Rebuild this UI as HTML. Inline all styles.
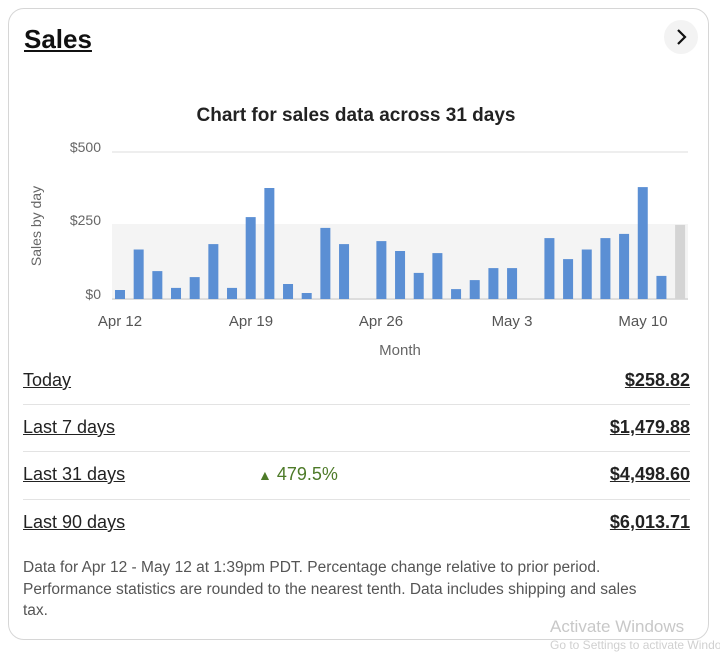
<!DOCTYPE html>
<html><head><meta charset="utf-8"><style>
body{margin:0;width:720px;height:651px;background:#fff;font-family:"Liberation Sans",sans-serif;position:relative;overflow:hidden}
.card{position:absolute;left:8px;top:8px;width:701px;height:632px;border:1px solid #d6d6d6;border-radius:16px;box-sizing:border-box}
.a{position:absolute;white-space:nowrap}
.row{position:absolute;left:23px;width:667px;font-size:18px;color:#222}
.row .l{position:absolute;left:0;text-decoration:underline}
.row .r{position:absolute;right:0;font-weight:bold;text-decoration:underline}
.sep{position:absolute;left:23px;width:667px;height:1px;background:#e3e3e3}
</style></head><body>
<div class="card"></div>
<div class="a" style="left:24px;top:24px;font-size:26px;font-weight:bold;text-decoration:underline;color:#111">Sales</div>
<div class="a" style="left:664px;top:20px;width:34px;height:34px;border-radius:17px;background:#f3f3f3"></div>
<svg class="a" style="left:664px;top:20px" width="34" height="34"><polyline points="14,10 21,17 14,24" fill="none" stroke="#111" stroke-width="2.2"/></svg>
<svg class="a" style="left:0;top:0" width="720" height="370">
<text x="356" y="121" text-anchor="middle" font-size="19" font-weight="bold" fill="#222" font-family="Liberation Sans">Chart for sales data across 31 days</text>
<line x1="112" y1="152" x2="688" y2="152" stroke="#eee" stroke-width="2"/>
<rect x="112" y="224" width="576" height="75" fill="#f4f4f4"/>
<line x1="112" y1="299" x2="688" y2="299" stroke="#ddd" stroke-width="2"/>
<g font-size="14" fill="#666" font-family="Liberation Sans" text-anchor="end">
<text x="101" y="152">$500</text><text x="101" y="225">$250</text><text x="101" y="299">$0</text></g>
<text transform="translate(41,226) rotate(-90)" text-anchor="middle" font-size="14" fill="#666" font-family="Liberation Sans">Sales by day</text>
<g font-size="15" fill="#555" font-family="Liberation Sans" text-anchor="middle">
<text x="120" y="326">Apr 12</text><text x="251" y="326">Apr 19</text><text x="381" y="326">Apr 26</text><text x="512" y="326">May 3</text><text x="643" y="326">May 10</text></g>
<text x="400" y="355" text-anchor="middle" font-size="15" fill="#666" font-family="Liberation Sans">Month</text>
<g fill="#5b8fd4" id="bars"></g>
</svg>
<div class="row" style="top:370px"><span class="l">Today</span><span class="r">$258.82</span></div>
<div class="sep" style="top:404px"></div>
<div class="row" style="top:417px"><span class="l">Last 7 days</span><span class="r">$1,479.88</span></div>
<div class="sep" style="top:451px"></div>
<div class="row" style="top:464px"><span class="l">Last 31 days</span><span class="a" style="left:235px;color:#4d7a28"><span style="font-size:14px">▲</span> 479.5%</span><span class="r">$4,498.60</span></div>
<div class="sep" style="top:499px"></div>
<div class="row" style="top:512px"><span class="l">Last 90 days</span><span class="r">$6,013.71</span></div>
<div class="a" style="left:23px;top:557px;font-size:15.5px;line-height:21.5px;color:#555">Data for Apr 12 - May 12 at 1:39pm PDT. Percentage change relative to prior period.<br>Performance statistics are rounded to the nearest tenth. Data includes shipping and sales<br>tax.</div>
<div class="a" style="left:550px;top:617px;font-size:17px;color:#c8c8c8">Activate Windows</div>
<div class="a" style="left:550px;top:638px;font-size:12px;color:#d0d0d0">Go to Settings to activate Windows.</div>
<script>
var v=[30,165,93,37,73,183,37,273,370,50,20,237,183,0,193,160,87,153,33,63,103,103,0,203,133,165,203,217,373,77,247];
var g=document.getElementById('bars'),s='';
v.forEach(function(d,i){var x=120+i*18.67-5,h=d*0.3;s+='<rect x="'+x+'" y="'+(299-h)+'" width="10" height="'+h+'"'+(i==30?' fill="#d4d4d4"':'')+'/>';});
g.innerHTML=s;
</script>
</body></html>
